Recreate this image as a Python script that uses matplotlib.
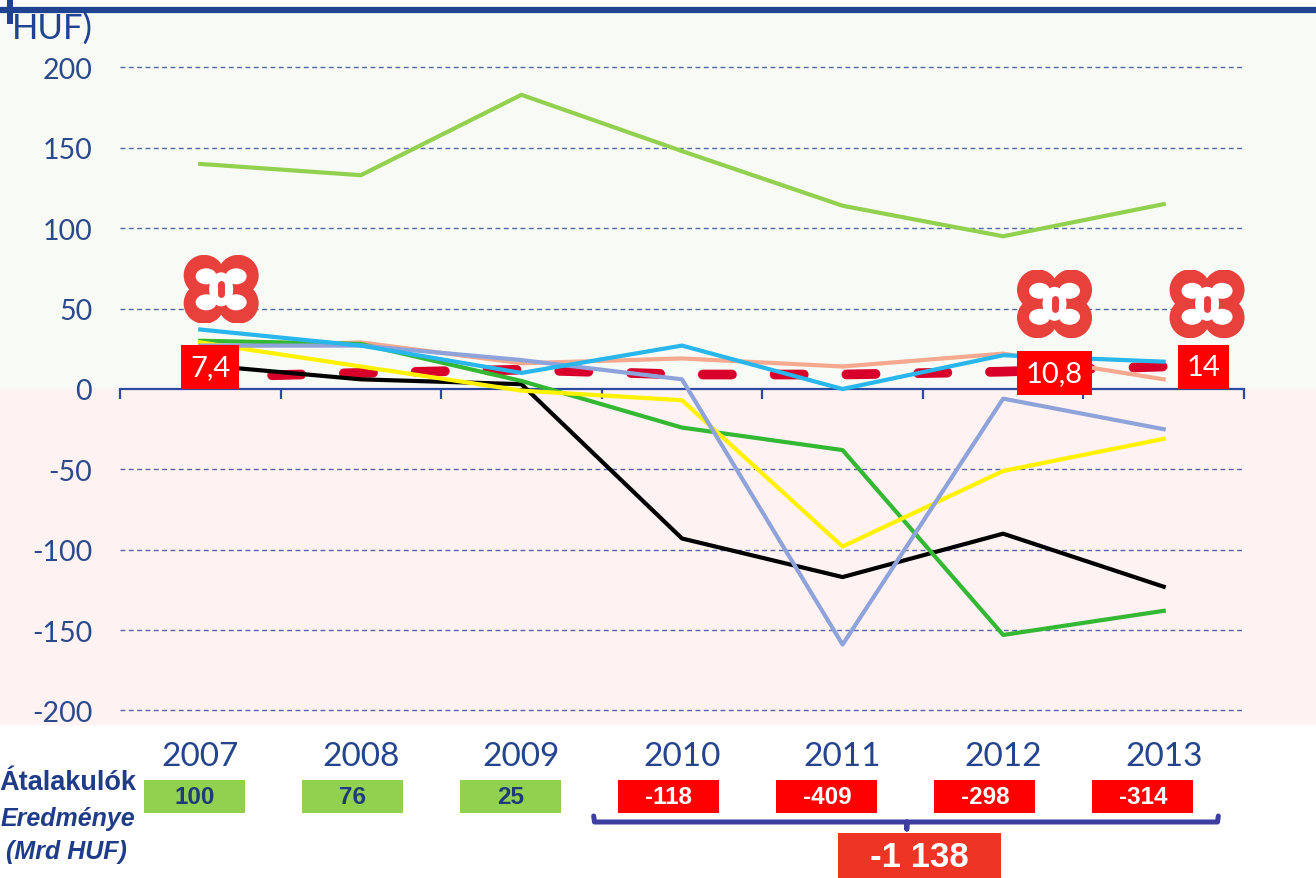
import numpy as np
import matplotlib
matplotlib.use('Agg')
import matplotlib.pyplot as plt
from matplotlib.patches import Circle, Ellipse, Rectangle
from matplotlib.lines import Line2D
import matplotlib.transforms as mtransforms

plt.rcParams['axes.unicode_minus'] = False
plt.rcParams['lines.scale_dashes'] = False

# data
years = ['2007', '2008', '2009', '2010', '2011', '2012', '2013']
light_green = [140, 133, 183, 148, 114, 95, 115]
black = [15, 6, 3, -93, -117, -90, -123]
green = [30, 28, 5, -24, -38, -153, -138]
yellow = [29, 14, -1, -7, -98, -51, -31]
lavender = [27, 27, 18, 6, -159, -6, -25]
cyan = [37, 27, 10, 27, 0, 21, 17]
salmon = [26, 29, 16, 19, 14, 22, 6]
red_dash = [7.4, 10, 12, 9, 9, 10.8, 14]
labelled = [0, 5, 6]
results = [100, 76, 25, -118, -409, -298, -314]
loss_total = -1138

BLUE = '#24448e'
x = np.arange(len(years))

fig = plt.figure(figsize=(13.16, 8.79), dpi=100)
W, H = 1316, 879
ax = fig.add_axes([120 / W, 1 - 725 / H, 1124 / W, 711 / H])
ax.set_xlim(-0.5, 6.5)
ax.set_ylim(-208.4, 233.9)
ax.patch.set_visible(False)

# backgrounds
ax.axhspan(0, 233.9, xmin=-120 / 1124, xmax=1 + 72 / 1124, color='#f7faf5', clip_on=False, zorder=0)
ax.axhspan(-208.4, 0, xmin=-120 / 1124, xmax=1 + 72 / 1124, color='#fef2f2', clip_on=False, zorder=0)

# axes styling
for s in ['top', 'right', 'left']:
    ax.spines[s].set_visible(False)
ax.spines['bottom'].set_position(('data', 0))
ax.spines['bottom'].set_color('#2e4a9e')
ax.spines['bottom'].set_linewidth(1.6)
ax.spines['bottom'].set_zorder(2)
ax.set_xticks(np.arange(-0.5, 7, 1))
ax.tick_params(axis='x', length=7, width=1.6, color='#2e4a9e', labelbottom=False, direction='out')
ax.set_yticks(range(-200, 201, 50))
ax.tick_params(axis='y', length=0, pad=20, labelsize=20.5, labelcolor='#2b4a8c')
for t in ax.get_yticklabels():
    t.set_fontfamily('Lato')
for v in range(-200, 201, 50):
    if v != 0:
        ax.axhline(v, color='#5467a8', lw=1, dashes=(3.5, 2.5), zorder=1)

# lines
ax.plot(x, red_dash, color='#d8002a', lw=7, dashes=(21, 30.7), dash_capstyle='round', zorder=2)
series = [(salmon, '#f6a98f'), (light_green, '#92d050'), (black, '#000000'),
          (green, '#33b833'), (yellow, '#fff200'), (lavender, '#8fa3db'), (cyan, '#29b6ec')]
for vals, col in series:
    ax.plot(x, vals, color=col, lw=3, solid_joinstyle='round', zorder=3)

# labels on red dashed series
offsets = {0: (0.062, 6.3), 5: (0.32, -0.8), 6: (0.25, -0.3)}
for i in labelled:
    dx, dy = offsets[i]
    txt = f'{red_dash[i]:g}'.replace('.', ',')
    ax.text(i + dx, red_dash[i] + dy, txt, ha='center', va='center', fontsize=21,
            family='Lato', color='white', zorder=6,
            bbox=dict(boxstyle='square,pad=0.3', fc='#ff0000', ec='none'))


def draw_logo(cx, cy):
    lax = ax.inset_axes([cx - 0.2367, cy - 21.15, 0.4733, 42.3], transform=ax.transData, zorder=5)
    lax.set_xlim(-38, 38)
    lax.set_ylim(-34, 34)
    lax.axis('off')
    col = '#e8413c'
    for sx in (-17, 17):
        for sy in (-14, 14):
            lax.add_patch(Circle((sx, sy), 20.5, color=col, lw=0))
    # white inner shape: four lobes joined round the middle
    for sx in (-15, 15):
        for sy in (-13, 13):
            lax.add_patch(Ellipse((sx, sy), 21, 16, color='white', lw=0))
    lax.add_patch(Ellipse((0, 0), 24, 34, color='white', lw=0))
    lax.plot([0, 0], [-5, 5], color=col, lw=5, solid_capstyle='round')


draw_logo(0.13, 62)
draw_logo(5.32, 53)
draw_logo(6.27, 53)

# bottom table
bt = mtransforms.blended_transform_factory(ax.transData, fig.transFigure)
for i, yr in enumerate(years):
    ax.text(i, 1 - 757 / H, yr, transform=bt, ha='center', va='center', fontsize=24,
            family='Lato', color=BLUE, clip_on=False)
    bx = i * 0.984 - 0.034
    pos = results[i] > 0
    ax.add_patch(Rectangle((bx - 0.3145, 1 - 814 / H), 0.629, 33 / H, transform=bt,
                           color='#92d050' if pos else '#ff0000', clip_on=False, lw=0))
    ax.text(bx, 1 - 798 / H, str(results[i]), transform=bt, ha='center', va='center',
            fontsize=17.5, fontweight='bold', family='Liberation Sans',
            color='#1f3c78' if pos else 'white', clip_on=False)

# bracket for losses
bxs = [2.45, 2.455, 4.40, 4.40, 4.40, 6.335, 6.34]
bys = [817, 823, 823, 830, 823, 823, 817]
ax.add_line(Line2D(bxs, [1 - v / H for v in bys], transform=bt, color='#3c3fa0', lw=3.6,
                   solid_joinstyle='round', solid_capstyle='round', clip_on=False))
ax.add_patch(Rectangle((3.973, -0.02), 1.015, 0.02 + 45 / H, transform=bt, color='#ee3424',
                       lw=0, clip_on=False))
total_txt = f'{loss_total:,}'.replace(',', ' ')
ax.text(4.48, 1 - 858 / H, total_txt, transform=bt, ha='center', va='center', fontsize=25,
        fontweight='bold', family='Liberation Sans', color='white', clip_on=False)

# row caption
fig.text(68 / W, 1 - 783 / H, 'Átalakulók', ha='center', va='center', fontsize=19.5,
         fontweight='bold', family='Liberation Sans', color='#1f3c88')
fig.text(68 / W, 1 - 819 / H, 'Eredménye', ha='center', va='center', fontsize=18,
         fontweight='bold', style='italic', family='Liberation Sans', color='#1f3c88')
fig.text(66 / W, 1 - 852 / H, '(Mrd HUF)', ha='center', va='center', fontsize=18,
         fontweight='bold', style='italic', family='Liberation Sans', color='#1f3c88')

# top rule and clipped title remnant
fig.add_artist(Line2D([0, 1], [1 - 11 / H, 1 - 11 / H], transform=fig.transFigure,
                      color='#1f4391', lw=4.5))
fig.add_artist(Rectangle((7 / W, 1 - 25 / H), 6 / W, 25 / H, transform=fig.transFigure,
                         color='#1f4391', lw=0))
fig.text(12 / W, 1 - 13 / H, 'HUF)', ha='left', va='top', fontsize=25, family='Lato', color='#1f4391')

fig.savefig('out.png', dpi=100)
